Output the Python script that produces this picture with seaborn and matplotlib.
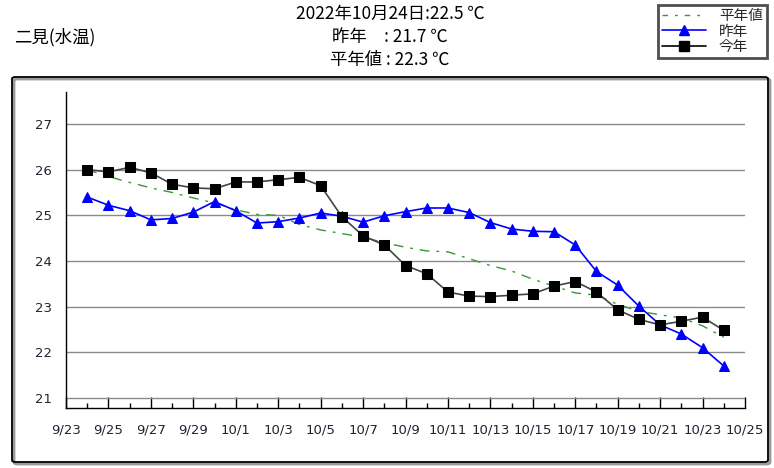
import numpy as np
import pandas as pd
import seaborn as sns
import matplotlib.pyplot as plt
import matplotlib.dates as mdates
from matplotlib.patches import FancyBboxPatch
from matplotlib.lines import Line2D

# daily water temperature, 9/24 .. 10/24
start_date = "2022-09-24"
end_date = "2022-10-24"

this_year = [26.00, 25.95, 26.05, 25.93, 25.68, 25.60, 25.58, 25.73, 25.73, 25.78,
             25.83, 25.65, 24.97, 24.55, 24.35, 23.90, 23.72, 23.32, 23.23, 23.22,
             23.25, 23.28, 23.45, 23.55, 23.32, 22.93, 22.72, 22.60, 22.68, 22.77,
             22.48]
last_year = [25.40, 25.22, 25.10, 24.90, 24.93, 25.07, 25.30, 25.10, 24.83, 24.86,
             24.94, 25.05, 24.98, 24.85, 24.99, 25.08, 25.16, 25.16, 25.06, 24.84,
             24.70, 24.65, 24.64, 24.35, 23.77, 23.47, 23.01, 22.60, 22.40, 22.10,
             21.70]
normal = [26.00, 25.85, 25.72, 25.60, 25.50, 25.38, 25.27, 25.12, 25.02, 25.00,
          24.80, 24.68, 24.60, 24.52, 24.40, 24.30, 24.22, 24.20, 24.05, 23.90,
          23.78, 23.60, 23.45, 23.30, 23.25, 23.05, 22.90, 22.82, 22.75, 22.58,
          22.33]

station = "二見(水温)"
title_lines = ["2022年10月24日:22.5 ℃", "昨年　: 21.7 ℃", "平年値 : 22.3 ℃"]
labels = ["平年値", "昨年", "今年"]

dates = pd.date_range(start_date, end_date, freq="D")
df = pd.DataFrame({"date": dates, "今年": this_year, "昨年": last_year, "平年値": normal})

sns.set_theme(style="white")
plt.rcParams['font.family'] = ['Noto Sans CJK JP', 'DejaVu Sans']

fig = plt.figure(figsize=(7.74, 4.68), dpi=100)
ax = fig.add_axes([66 / 774, 1 - 408 / 468, (745 - 66) / 774, (408 - 92) / 468])

# outer frame with a small shadow
fig.patches.append(FancyBboxPatch((14 / 774, 4 / 468), 756 / 774, 385 / 468,
                                  boxstyle="round,pad=0,rounding_size=0.004",
                                  transform=fig.transFigure, facecolor="none",
                                  edgecolor="#9a9a9a", lw=2, zorder=0))
fig.patches.append(FancyBboxPatch((12 / 774, 6 / 468), 756 / 774, 385 / 468,
                                  boxstyle="round,pad=0,rounding_size=0.004",
                                  transform=fig.transFigure, facecolor="none",
                                  edgecolor="black", lw=1.3, zorder=1))

green_dash = [7, 5, 2, 5]
sns.lineplot(data=df, x="date", y="平年値", ax=ax, color="#339933", lw=1.0,
             zorder=2)
ax.lines[-1].set_dashes(green_dash)
sns.lineplot(data=df, x="date", y="昨年", ax=ax, color="#0000ff", lw=1.2,
             marker="^", markersize=7, markeredgecolor="#0000ff", zorder=3)
sns.lineplot(data=df, x="date", y="今年", ax=ax, color="#444444", lw=1.2,
             marker="s", markersize=6.5, markerfacecolor="black",
             markeredgecolor="black", zorder=4)

ax.set_xlim(pd.Timestamp("2022-09-23"), pd.Timestamp("2022-10-25"))
ax.set_ylim(20.78, 27.70)
ax.set_yticks(range(21, 28))
ax.yaxis.grid(True, color="#8a8a8a", lw=1)
ax.xaxis.grid(False)

major = pd.date_range("2022-09-23", "2022-10-25", freq="2D")
ax.set_xticks(major)
ax.set_xticklabels([f"{d.month}/{d.day}" for d in major])
ax.xaxis.set_minor_locator(mdates.DayLocator())
ax.tick_params(axis="x", which="major", direction="in", length=8, width=1,
               color="black", pad=11, labelsize=9.5, labelcolor="#222233", bottom=True)
ax.tick_params(axis="x", which="minor", direction="in", length=3.5, width=1,
               color="black", bottom=True)
ax.tick_params(axis="y", length=0, pad=10, labelsize=9.5, labelcolor="#222233")
for lab in ax.get_xticklabels() + ax.get_yticklabels():
    lab.set_family("DejaVu Sans")

ax.set_xlabel("")
ax.set_ylabel("")
for side in ["top", "right"]:
    ax.spines[side].set_visible(False)
for side in ["left", "bottom"]:
    ax.spines[side].set_color("black")
    ax.spines[side].set_linewidth(1)

# titles
for i, line in enumerate(title_lines):
    fig.text(390 / 774, 1 - (14 + i * 23) / 468, line, ha="center", va="center",
             fontsize=12.5, color="black")
fig.text(14 / 774, 1 - 37 / 468, station, ha="left", va="center",
         fontsize=12.5, color="black")

# legend
handles = [
    Line2D([], [], color="#339933", lw=1.0, dashes=[4, 5, 2, 5]),
    Line2D([], [], color="#0000ff", lw=1.2, marker="^", markersize=7),
    Line2D([], [], color="black", lw=1.2, marker="s", markersize=6.5),
]
leg = fig.legend(handles, labels, loc="upper right",
                 bbox_to_anchor=(767 / 774, 1 - 5 / 468), fontsize=10.5,
                 handlelength=3.0, handletextpad=0.9, labelspacing=0.08,
                 borderpad=0.3, borderaxespad=0, frameon=True, fancybox=False)
leg.get_frame().set_edgecolor("#222222")
leg.get_frame().set_linewidth(2)

plt.savefig("out.png", dpi=100)
plt.close(fig)
